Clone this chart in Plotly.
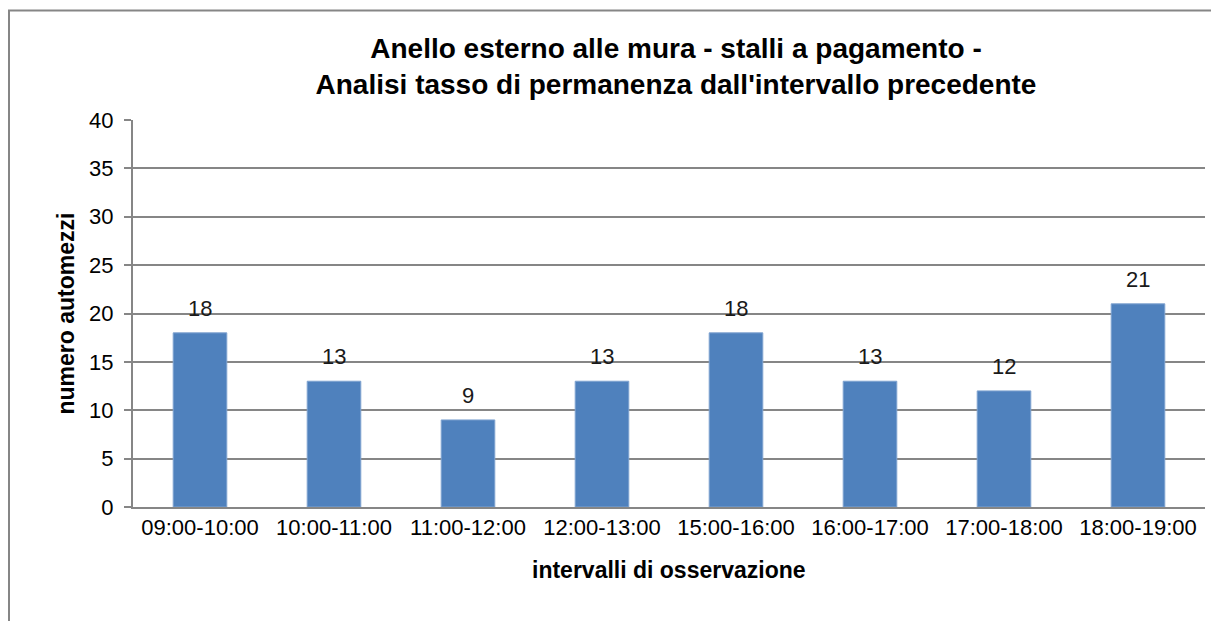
import plotly.graph_objects as go

categories = ["09:00-10:00", "10:00-11:00", "11:00-12:00", "12:00-13:00",
              "15:00-16:00", "16:00-17:00", "17:00-18:00", "18:00-19:00"]
values = [18, 13, 9, 13, 18, 13, 12, 21]
y_ticks = [0, 5, 10, 15, 20, 25, 30, 35, 40]

FONT = "Liberation Sans, Arial, sans-serif"

W, H = 1211, 613
L, R, T, B = 125, 14, 112, 114
PW, PH = W - L - R, H - T - B

fig = go.Figure()
fig.add_trace(go.Bar(
    x=categories, y=values,
    marker=dict(color="#4F81BD", line=dict(color="#7FA3D0", width=1)),
))

annotations = [
    dict(x=c, y=v, xref="x", yref="y", text=str(v), showarrow=False,
         yanchor="bottom", yshift=10, font=dict(family=FONT, size=22, color="#1a1a1a"))
    for c, v in zip(categories, values)
]
annotations.append(dict(
    x=0.5, y=(H - B - 562) / PH, xref="paper", yref="paper",
    text="<b>intervalli di osservazione</b>", showarrow=False,
    xanchor="center", yanchor="middle",
    font=dict(family=FONT, size=23, color="black")))
annotations.append(dict(
    x=(57 - L) / PW, y=0.5, xref="paper", yref="paper",
    text="<b>numero automezzi</b>", showarrow=False, textangle=-90,
    xanchor="center", yanchor="middle",
    font=dict(family=FONT, size=23, color="black")))

fig.update_layout(
    width=W, height=H,
    margin=dict(l=L, r=R, t=T, b=B),
    paper_bgcolor="white", plot_bgcolor="white",
    bargap=0.6,
    showlegend=False,
    title=dict(
        text="<b>Anello esterno alle mura - stalli a pagamento -<br>Analisi tasso di permanenza dall'intervallo precedente</b>",
        x=668 / W, xanchor="center", y=1 - 50 / H, yanchor="top",
        font=dict(family=FONT, size=28, color="black"),
    ),
    xaxis=dict(
        tickfont=dict(family=FONT, size=22, color="black"),
        showline=True, linecolor="#868686", linewidth=2,
        ticks="", showgrid=False,
    ),
    yaxis=dict(
        range=[0, 40], tickvals=y_ticks,
        tickfont=dict(family=FONT, size=22, color="black"),
        showgrid=True, gridcolor="#868686", gridwidth=1.5,
        showline=True, linecolor="#868686", linewidth=2,
        ticks="outside", ticklen=7, tickcolor="#868686", tickwidth=1.5,
        ticklabelstandoff=6,
        zeroline=False,
    ),
    annotations=annotations,
    shapes=[dict(type="rect", xref="paper", yref="paper",
                 x0=(1 - L) / PW, x1=(1230 - L) / PW,
                 y0=(H - B - 640) / PH, y1=(H - B - 2.5) / PH,
                 line=dict(color="#868686", width=2), fillcolor="rgba(0,0,0,0)", layer="below")],
)

fig.write_html("out.html")
